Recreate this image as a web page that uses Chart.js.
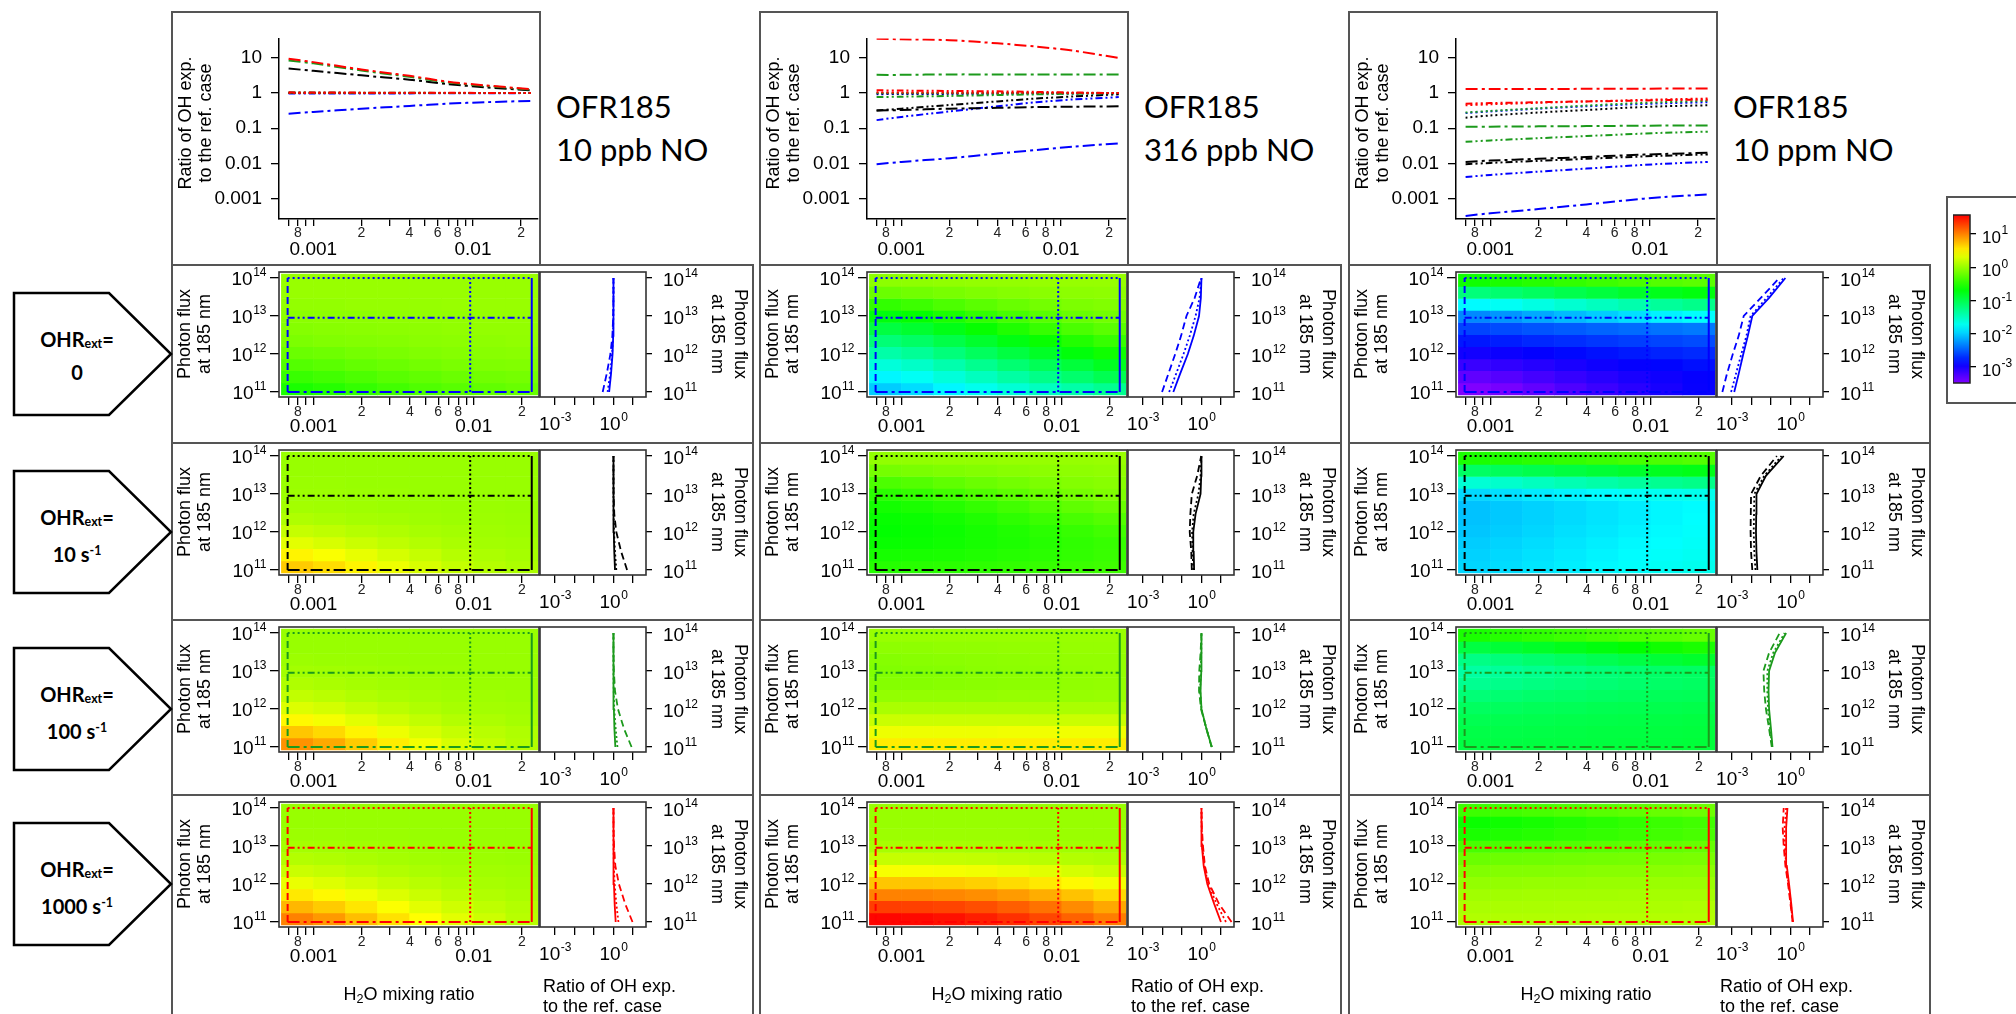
<!DOCTYPE html>
<html>
<head>
<meta charset="utf-8">
<script src="https://cdn.jsdelivr.net/npm/chart.js@4.4.1/dist/chart.umd.min.js"></script>
<style>
  html, body { margin: 0; padding: 0; background: #fff; }
  #page { position: relative; width: 2016px; height: 1014px; overflow: hidden; font-family: "Liberation Sans", Arial, sans-serif; color: #000; }
  .box { position: absolute; border: 2px solid #555; box-sizing: border-box; }
  canvas { position: absolute; }
  .txt { position: absolute; white-space: nowrap; }
  .rot { transform: translate(-50%, -50%) rotate(-90deg); text-align: center; }
  .rotcw { transform: translate(-50%, -50%) rotate(90deg); text-align: center; }
  .ofr { font-family: Lato, "Open Sans", sans-serif; font-size: 31px; line-height: 43px; }
  .ohr { font-family: Lato, "Open Sans", sans-serif; font-weight: bold; font-size: 20px; line-height: 29px; text-align: center; width: 130px; }
  .ohr sub { font-size: 0.62em; vertical-align: -0.1em; }
  .ohr sup { font-size: 0.62em; vertical-align: 0.55em; }
  .lab { font-size: 18px; }
  .lab sub { font-size: 0.7em; vertical-align: -0.2em; }
</style>
</head>
<body>
<div id="page"></div>
<script>
// ---------------- data ----------------
// H2O mixing ratio sample points of the top panels
const h2oPts = [0.0007, 0.001, 0.002, 0.004, 0.007, 0.012, 0.023];
// photon flux sample points of the side panels
const fluxPts = [1e11, 3e11, 1e12, 3e12, 1e13, 3e13, 1e14];

// top panels: ratio vs H2O, one row per photon flux [1e14, 9e12, 1e11]
const top10ppbBlue  = [[1.0, 1.0, 1.0, 1.0, 1.0, 1.0, 1.0], [0.97, 0.97, 0.98, 0.98, 0.99, 0.99, 1.0], [0.26, 0.29, 0.36, 0.43, 0.5, 0.55, 0.6]];
const top10ppbBlack = [[1.0, 1.0, 1.0, 1.0, 1.0, 1.0, 1.0], [1.02, 1.02, 1.01, 1.01, 1.01, 1.0, 1.0], [5.0, 4.3, 3.2, 2.4, 1.8, 1.45, 1.2]];
const top10ppbGreen = [[1.0, 1.0, 1.0, 1.0, 1.0, 1.0, 1.0], [1.04, 1.03, 1.02, 1.02, 1.01, 1.01, 1.0], [8.5, 7.0, 4.4, 2.9, 2.0, 1.6, 1.25]];
const top10ppbRed   = [[1.0, 1.0, 1.0, 1.0, 1.0, 1.0, 1.0], [1.05, 1.04, 1.03, 1.02, 1.02, 1.01, 1.0], [9.5, 7.6, 4.7, 3.1, 2.1, 1.65, 1.3]];

const top316ppbBlue  = [[0.93, 0.94, 0.95, 0.96, 0.97, 0.98, 0.99], [0.17, 0.21, 0.3, 0.42, 0.55, 0.66, 0.77], [0.0095, 0.011, 0.014, 0.019, 0.024, 0.03, 0.037]];
const top316ppbBlack = [[0.97, 0.97, 0.98, 0.98, 0.99, 0.99, 1.0], [0.32, 0.36, 0.46, 0.58, 0.7, 0.8, 0.92], [0.32, 0.33, 0.36, 0.38, 0.4, 0.41, 0.42]];
const top316ppbGreen = [[1.0, 1.0, 1.0, 1.0, 1.0, 1.0, 1.0], [0.77, 0.79, 0.83, 0.88, 0.92, 0.96, 1.0], [3.3, 3.3, 3.4, 3.4, 3.4, 3.4, 3.4]];
const top316ppbRed   = [[1.05, 1.04, 1.03, 1.02, 1.02, 1.01, 1.0], [1.2, 1.18, 1.15, 1.12, 1.08, 1.04, 1.0], [35, 34, 32, 26, 21, 16, 10]];

const top10ppmBlue  = [[0.27, 0.3, 0.36, 0.42, 0.47, 0.51, 0.55], [0.0041, 0.0047, 0.0058, 0.0071, 0.0084, 0.0097, 0.011], [0.00032, 0.00038, 0.0005, 0.00068, 0.00088, 0.0011, 0.0013]];
const top10ppmBlack = [[0.2, 0.23, 0.28, 0.33, 0.38, 0.42, 0.45], [0.0095, 0.0103, 0.0118, 0.0135, 0.015, 0.0165, 0.018], [0.011, 0.012, 0.0135, 0.0152, 0.017, 0.0185, 0.02]];
const top10ppmGreen = [[0.28, 0.31, 0.37, 0.44, 0.5, 0.55, 0.6], [0.041, 0.045, 0.052, 0.06, 0.067, 0.074, 0.08], [0.11, 0.111, 0.113, 0.115, 0.117, 0.119, 0.12]];
const top10ppmRed   = [[0.45, 0.48, 0.53, 0.58, 0.62, 0.66, 0.7], [0.5, 0.52, 0.55, 0.58, 0.6, 0.63, 0.65], [1.3, 1.3, 1.31, 1.32, 1.33, 1.34, 1.35]];

// side panels: ratio vs photon flux, one row per H2O [0.0007, 0.0095, 0.023]
const side10ppbBlue  = [[0.28, 0.45, 0.7, 0.88, 0.97, 1.0, 1.0], [0.5, 0.68, 0.85, 0.95, 0.99, 1.0, 1.0], [0.6, 0.75, 0.9, 0.97, 1.0, 1.0, 1.0]];
const side10ppbBlack = [[5.0, 2.5, 1.4, 1.1, 1.02, 1.0, 1.0], [1.4, 1.2, 1.07, 1.02, 1.0, 1.0, 1.0], [1.2, 1.1, 1.04, 1.01, 1.0, 1.0, 1.0]];
const side10ppbGreen = [[8.5, 3.5, 1.7, 1.2, 1.05, 1.0, 1.0], [1.6, 1.3, 1.1, 1.03, 1.0, 1.0, 1.0], [1.25, 1.12, 1.05, 1.01, 1.0, 1.0, 1.0]];
const side10ppbRed   = [[9.5, 4.0, 1.9, 1.25, 1.07, 1.01, 1.0], [1.8, 1.4, 1.15, 1.05, 1.01, 1.0, 1.0], [1.3, 1.15, 1.06, 1.02, 1.0, 1.0, 1.0]];

const side316ppbBlue  = [[0.0095, 0.02, 0.045, 0.09, 0.17, 0.45, 0.95], [0.022, 0.05, 0.12, 0.25, 0.5, 0.8, 1.0], [0.036, 0.08, 0.2, 0.4, 0.75, 0.93, 1.0]];
const side316ppbBlack = [[0.32, 0.3, 0.25, 0.27, 0.32, 0.6, 0.97], [0.38, 0.35, 0.33, 0.4, 0.7, 0.9, 1.0], [0.42, 0.4, 0.38, 0.5, 0.9, 0.97, 1.0]];
const side316ppbGreen = [[3.3, 1.8, 0.95, 0.75, 0.77, 0.9, 1.0], [3.4, 1.8, 1.0, 0.85, 0.92, 0.98, 1.0], [3.4, 1.8, 1.0, 0.9, 0.98, 1.0, 1.0]];
const side316ppbRed   = [[35, 8, 2.5, 1.5, 1.2, 1.05, 1.0], [18, 6, 2.2, 1.4, 1.1, 1.02, 1.0], [10, 4.5, 2.0, 1.3, 1.05, 1.0, 1.0]];

const side10ppmBlue  = [[0.00032, 0.00055, 0.0011, 0.0022, 0.004, 0.03, 0.27], [0.0009, 0.0016, 0.003, 0.0055, 0.009, 0.06, 0.45], [0.0013, 0.0022, 0.0038, 0.0065, 0.011, 0.08, 0.55]];
const side10ppmBlack = [[0.011, 0.0095, 0.009, 0.0092, 0.0095, 0.03, 0.2], [0.016, 0.014, 0.013, 0.0135, 0.014, 0.045, 0.35], [0.02, 0.018, 0.017, 0.0175, 0.018, 0.055, 0.45]];
const side10ppmGreen = [[0.11, 0.08, 0.055, 0.045, 0.041, 0.08, 0.28], [0.115, 0.09, 0.07, 0.065, 0.065, 0.13, 0.5], [0.12, 0.1, 0.08, 0.075, 0.08, 0.16, 0.6]];
const side10ppmRed   = [[1.3, 1.0, 0.75, 0.55, 0.45, 0.4, 0.45], [1.3, 1.05, 0.8, 0.6, 0.52, 0.5, 0.6], [1.35, 1.1, 0.85, 0.65, 0.6, 0.6, 0.7]];

// heat maps: log10(ratio); rows = photon flux bins (top to bottom), columns = H2O bins (left to right)
const h2oBinExp = [-3.2, -3.0, -2.8, -2.6, -2.4, -2.2, -2.0, -1.8, -1.6];
const fluxBinExp = [14.10, 13.78, 13.46, 13.15, 12.83, 12.51, 12.19, 11.87, 11.56, 11.24, 10.92];

const heat10ppbBlue = [
  [0, 0, 0, 0, 0, 0, 0, 0],
  [0, 0, 0, 0, 0, 0, 0, 0],
  [-0.02, -0.02, -0.01, -0.01, -0.01, 0, 0, 0],
  [-0.05, -0.04, -0.04, -0.03, -0.02, -0.02, -0.01, -0.01],
  [-0.08, -0.07, -0.06, -0.05, -0.04, -0.03, -0.02, -0.02],
  [-0.12, -0.1, -0.09, -0.08, -0.06, -0.05, -0.04, -0.03],
  [-0.2, -0.18, -0.15, -0.13, -0.1, -0.08, -0.07, -0.06],
  [-0.3, -0.27, -0.23, -0.2, -0.16, -0.13, -0.11, -0.1],
  [-0.42, -0.38, -0.33, -0.28, -0.24, -0.2, -0.17, -0.15],
  [-0.55, -0.5, -0.44, -0.38, -0.32, -0.28, -0.24, -0.21]];
const heat10ppbBlack = [
  [0, 0, 0, 0, 0, 0, 0, 0],
  [0, 0, 0, 0, 0, 0, 0, 0],
  [0.01, 0.01, 0, 0, 0, 0, 0, 0],
  [0.02, 0.02, 0.01, 0.01, 0, 0, 0, 0],
  [0.05, 0.04, 0.03, 0.02, 0.02, 0.01, 0.01, 0],
  [0.1, 0.08, 0.06, 0.05, 0.03, 0.02, 0.02, 0.01],
  [0.2, 0.17, 0.13, 0.1, 0.07, 0.05, 0.03, 0.02],
  [0.33, 0.28, 0.22, 0.17, 0.12, 0.08, 0.05, 0.04],
  [0.5, 0.43, 0.35, 0.27, 0.2, 0.13, 0.09, 0.06],
  [0.68, 0.6, 0.5, 0.38, 0.28, 0.19, 0.13, 0.09]];
const heat10ppbGreen = [
  [0, 0, 0, 0, 0, 0, 0, 0],
  [0, 0, 0, 0, 0, 0, 0, 0],
  [0.02, 0.01, 0.01, 0, 0, 0, 0, 0],
  [0.05, 0.04, 0.03, 0.02, 0.01, 0.01, 0, 0],
  [0.1, 0.08, 0.06, 0.04, 0.03, 0.02, 0.01, 0.01],
  [0.18, 0.15, 0.11, 0.08, 0.06, 0.04, 0.03, 0.02],
  [0.3, 0.26, 0.2, 0.15, 0.1, 0.07, 0.05, 0.04],
  [0.48, 0.41, 0.33, 0.25, 0.18, 0.12, 0.09, 0.06],
  [0.7, 0.62, 0.5, 0.38, 0.28, 0.2, 0.14, 0.1],
  [0.93, 0.83, 0.68, 0.53, 0.4, 0.28, 0.19, 0.12]];
const heat10ppbRed = [
  [0, 0, 0, 0, 0, 0, 0, 0],
  [0, 0, 0, 0, 0, 0, 0, 0],
  [0.02, 0.02, 0.01, 0.01, 0, 0, 0, 0],
  [0.06, 0.05, 0.04, 0.03, 0.02, 0.01, 0.01, 0],
  [0.12, 0.1, 0.08, 0.06, 0.04, 0.03, 0.02, 0.01],
  [0.22, 0.19, 0.15, 0.11, 0.08, 0.06, 0.04, 0.03],
  [0.36, 0.31, 0.25, 0.19, 0.14, 0.1, 0.07, 0.05],
  [0.55, 0.48, 0.39, 0.3, 0.22, 0.16, 0.11, 0.08],
  [0.77, 0.68, 0.56, 0.44, 0.33, 0.24, 0.17, 0.12],
  [1.0, 0.9, 0.74, 0.58, 0.45, 0.33, 0.23, 0.14]];

const heat316ppbBlue = [
  [-0.05, -0.04, -0.03, -0.02, -0.02, -0.01, -0.01, -0.01],
  [-0.2, -0.17, -0.14, -0.11, -0.08, -0.06, -0.05, -0.04],
  [-0.45, -0.4, -0.33, -0.27, -0.21, -0.16, -0.12, -0.1],
  [-0.72, -0.65, -0.55, -0.45, -0.36, -0.28, -0.21, -0.16],
  [-0.95, -0.87, -0.76, -0.64, -0.53, -0.43, -0.34, -0.27],
  [-1.18, -1.1, -0.98, -0.86, -0.74, -0.63, -0.52, -0.43],
  [-1.4, -1.32, -1.2, -1.07, -0.95, -0.83, -0.71, -0.6],
  [-1.62, -1.54, -1.42, -1.29, -1.16, -1.04, -0.92, -0.8],
  [-1.82, -1.74, -1.62, -1.5, -1.38, -1.26, -1.14, -1.02],
  [-2.0, -1.93, -1.82, -1.71, -1.6, -1.5, -1.4, -1.3]];
const heat316ppbBlack = [
  [-0.03, -0.03, -0.02, -0.02, -0.01, -0.01, -0.01, 0],
  [-0.15, -0.13, -0.11, -0.09, -0.07, -0.05, -0.04, -0.03],
  [-0.33, -0.3, -0.25, -0.2, -0.16, -0.12, -0.09, -0.07],
  [-0.48, -0.44, -0.38, -0.32, -0.26, -0.2, -0.15, -0.11],
  [-0.58, -0.55, -0.5, -0.44, -0.38, -0.31, -0.25, -0.2],
  [-0.64, -0.62, -0.58, -0.53, -0.47, -0.41, -0.35, -0.3],
  [-0.66, -0.64, -0.61, -0.57, -0.53, -0.48, -0.43, -0.38],
  [-0.63, -0.62, -0.6, -0.57, -0.54, -0.5, -0.46, -0.43],
  [-0.57, -0.56, -0.55, -0.53, -0.5, -0.48, -0.45, -0.42],
  [-0.5, -0.49, -0.48, -0.47, -0.45, -0.43, -0.41, -0.39]];
const heat316ppbGreen = [
  [0, 0, 0, 0, 0, 0, 0, 0],
  [-0.04, -0.04, -0.03, -0.03, -0.02, -0.02, -0.01, -0.01],
  [-0.08, -0.07, -0.06, -0.05, -0.04, -0.03, -0.02, -0.02],
  [-0.1, -0.09, -0.08, -0.06, -0.05, -0.04, -0.03, -0.02],
  [-0.08, -0.08, -0.07, -0.06, -0.05, -0.04, -0.03, -0.02],
  [-0.02, -0.02, -0.02, -0.02, -0.01, -0.01, -0.01, 0],
  [0.08, 0.08, 0.08, 0.08, 0.08, 0.08, 0.08, 0.08],
  [0.22, 0.22, 0.22, 0.22, 0.22, 0.22, 0.22, 0.22],
  [0.38, 0.38, 0.38, 0.38, 0.39, 0.39, 0.39, 0.39],
  [0.53, 0.53, 0.53, 0.53, 0.53, 0.53, 0.53, 0.53]];
const heat316ppbRed = [
  [0, 0, 0, 0, 0, 0, 0, 0],
  [0, 0, 0, 0, 0, 0, 0, 0],
  [0.02, 0.02, 0.02, 0.02, 0.02, 0.01, 0.01, 0.01],
  [0.07, 0.07, 0.07, 0.06, 0.06, 0.05, 0.04, 0.03],
  [0.2, 0.2, 0.19, 0.18, 0.16, 0.14, 0.12, 0.1],
  [0.42, 0.42, 0.41, 0.39, 0.36, 0.32, 0.27, 0.22],
  [0.7, 0.7, 0.69, 0.66, 0.61, 0.55, 0.48, 0.4],
  [1.0, 1.0, 0.98, 0.95, 0.89, 0.81, 0.72, 0.62],
  [1.3, 1.29, 1.27, 1.23, 1.16, 1.07, 0.96, 0.84],
  [1.55, 1.53, 1.5, 1.44, 1.36, 1.26, 1.14, 1.02]];

const heat10ppmBlue = [
  [-0.6, -0.55, -0.5, -0.45, -0.4, -0.35, -0.3, -0.27],
  [-1.2, -1.15, -1.08, -1.0, -0.93, -0.85, -0.78, -0.72],
  [-1.8, -1.74, -1.66, -1.58, -1.5, -1.42, -1.34, -1.27],
  [-2.3, -2.24, -2.16, -2.08, -2.0, -1.92, -1.84, -1.77],
  [-2.6, -2.57, -2.53, -2.5, -2.46, -2.43, -2.4, -2.37],
  [-2.8, -2.77, -2.73, -2.7, -2.66, -2.63, -2.6, -2.57],
  [-2.98, -2.95, -2.91, -2.87, -2.83, -2.79, -2.75, -2.72],
  [-3.15, -3.11, -3.06, -3.01, -2.96, -2.92, -2.88, -2.84],
  [-3.32, -3.27, -3.2, -3.13, -3.07, -3.01, -2.96, -2.92],
  [-3.48, -3.42, -3.33, -3.24, -3.16, -3.08, -3.0, -2.93]];
const heat10ppmBlack = [
  [-0.55, -0.52, -0.48, -0.44, -0.4, -0.36, -0.33, -0.3],
  [-1.1, -1.06, -1.0, -0.95, -0.9, -0.85, -0.8, -0.76],
  [-1.6, -1.56, -1.5, -1.45, -1.4, -1.35, -1.3, -1.26],
  [-1.95, -1.92, -1.87, -1.83, -1.79, -1.75, -1.72, -1.7],
  [-2.05, -2.02, -1.98, -1.94, -1.9, -1.86, -1.82, -1.79],
  [-2.05, -2.02, -1.98, -1.94, -1.9, -1.86, -1.82, -1.78],
  [-2.03, -2.0, -1.96, -1.92, -1.88, -1.84, -1.8, -1.77],
  [-2.0, -1.97, -1.93, -1.89, -1.85, -1.81, -1.78, -1.75],
  [-1.98, -1.95, -1.91, -1.87, -1.83, -1.79, -1.76, -1.73],
  [-1.96, -1.93, -1.89, -1.85, -1.81, -1.77, -1.74, -1.71]];
const heat10ppmGreen = [
  [-0.55, -0.5, -0.45, -0.4, -0.35, -0.3, -0.26, -0.22],
  [-0.95, -0.9, -0.84, -0.78, -0.72, -0.66, -0.6, -0.55],
  [-1.25, -1.2, -1.14, -1.08, -1.02, -0.96, -0.9, -0.85],
  [-1.38, -1.34, -1.29, -1.24, -1.2, -1.16, -1.12, -1.1],
  [-1.3, -1.27, -1.23, -1.2, -1.17, -1.14, -1.11, -1.09],
  [-1.18, -1.16, -1.13, -1.11, -1.09, -1.07, -1.05, -1.04],
  [-1.08, -1.07, -1.05, -1.04, -1.02, -1.01, -1.0, -0.99],
  [-1.02, -1.01, -1.0, -0.99, -0.98, -0.97, -0.96, -0.95],
  [-0.98, -0.98, -0.97, -0.96, -0.95, -0.95, -0.94, -0.93],
  [-0.96, -0.96, -0.95, -0.95, -0.94, -0.93, -0.93, -0.92]];
const heat10ppmRed = [
  [-0.4, -0.38, -0.35, -0.32, -0.28, -0.25, -0.22, -0.19],
  [-0.62, -0.6, -0.57, -0.53, -0.49, -0.45, -0.41, -0.38],
  [-0.55, -0.53, -0.5, -0.47, -0.44, -0.41, -0.38, -0.35],
  [-0.35, -0.34, -0.32, -0.3, -0.28, -0.26, -0.24, -0.22],
  [-0.2, -0.19, -0.18, -0.17, -0.16, -0.15, -0.14, -0.13],
  [-0.1, -0.09, -0.09, -0.08, -0.07, -0.07, -0.06, -0.05],
  [-0.02, -0.02, -0.01, -0.01, 0, 0, 0.01, 0.01],
  [0.04, 0.04, 0.05, 0.05, 0.05, 0.06, 0.06, 0.06],
  [0.08, 0.08, 0.08, 0.09, 0.09, 0.09, 0.09, 0.1],
  [0.11, 0.11, 0.11, 0.11, 0.12, 0.12, 0.12, 0.12]];

// reference lines drawn on the maps
const h2oMarks = [0.00069, 0.0095, 0.023];
const fluxMarks = [1e14, 9e12, 1e11];

// ticks and labels
const h2oTicks = [0.0007, 0.0008, 0.0009, 0.001, 0.002, 0.003, 0.004, 0.005, 0.006, 0.007, 0.008, 0.009, 0.01, 0.02];
const h2oTickText = ['', '8', '', '', '2', '', '4', '', '6', '', '8', '', '', '2'];
const h2oMajor = [0.001, 0.01];
const h2oMajorText = ['0.001', '0.01'];
const ratioTicks = [0.001, 0.01, 0.1, 1, 10];
const ratioTickText = ['0.001', '0.01', '0.1', '1', '10'];
const fluxTicks = [1e11, 1e12, 1e13, 1e14];
const sideTicks = [1e-3, 1e-2, 1e-1, 1, 10];
const sideLabelled = [1e-3, 1];
const cbTicks = [1e-3, 1e-2, 1e-1, 1, 10];

const noLabels = ['10 ppb NO', '316 ppb NO', '10 ppm NO'];
const ohrLabels = ['0', '10 s<sup>-1</sup>', '100 s<sup>-1</sup>', '1000 s<sup>-1</sup>'];
const ohrColors = ['#0000ff', '#000000', '#1c9a1c', '#ff0000'];

const topSets = [[top10ppbBlue, top10ppbBlack, top10ppbGreen, top10ppbRed],
                 [top316ppbBlue, top316ppbBlack, top316ppbGreen, top316ppbRed],
                 [top10ppmBlue, top10ppmBlack, top10ppmGreen, top10ppmRed]];
const sideSets = [[side10ppbBlue, side10ppbBlack, side10ppbGreen, side10ppbRed],
                  [side316ppbBlue, side316ppbBlack, side316ppbGreen, side316ppbRed],
                  [side10ppmBlue, side10ppmBlack, side10ppmGreen, side10ppmRed]];
const heatSets = [[heat10ppbBlue, heat10ppbBlack, heat10ppbGreen, heat10ppbRed],
                  [heat316ppbBlue, heat316ppbBlack, heat316ppbGreen, heat316ppbRed],
                  [heat10ppmBlue, heat10ppmBlack, heat10ppmGreen, heat10ppmRed]];

// ---------------- layout ----------------
const colX = [0, 588, 1177];
const rowY = [264, 442, 619, 794];
const XMIN = Math.pow(10, -3.215), XMAX = Math.pow(10, -1.593);
const YMIN = Math.pow(10, 10.868), YMAX = Math.pow(10, 14.158);
const RMIN = Math.pow(10, -3.583), RMAX = Math.pow(10, 1.556);
const SMIN = Math.pow(10, -3.77), SMAX = Math.pow(10, 1.67);
const CBMIN = Math.pow(10, -3.48), CBMAX = Math.pow(10, 1.57);
const fluxDash = [[2, 3], [7, 3, 2, 3, 2, 3], [12, 4, 3, 4]];
const h2oDash = [[7, 4], [2, 2.5], []];
const FONT = '"Liberation Sans", Arial, sans-serif';

Chart.defaults.font.family = FONT;
Chart.defaults.color = '#000';
Chart.defaults.animation = false;
Chart.defaults.plugins.legend.display = false;
Chart.defaults.plugins.tooltip.enabled = false;

const page = document.getElementById('page');

function ratioColor(v) {
    const hue = Math.max(0, Math.min(270, (1.57 - v) * 53.7));
    return 'hsl(' + hue.toFixed(1) + ',100%,50%)';
}

// box around the plotting region
const framePlugin = {
    id: 'frame',
    afterDraw(chart, args, opts) {
        if (!opts.show) return;
        const a = chart.chartArea, ctx = chart.ctx;
        ctx.save();
        ctx.strokeStyle = opts.color || '#333';
        ctx.lineWidth = opts.width || 1.5;
        ctx.strokeRect(a.left, a.top, a.right - a.left, a.bottom - a.top);
        ctx.restore();
    }
};

// "10" with a raised exponent at tick positions
const expPlugin = {
    id: 'exp',
    afterDraw(chart, args, opts) {
        const items = opts.items || [];
        const ctx = chart.ctx;
        items.forEach(it => {
            const s = chart.scales[it.scale];
            const big = it.size || 18, small = it.sup || 12;
            it.values.forEach(v => {
                const p = s.getPixelForValue(v);
                const e = String(Math.round(Math.log10(v)));
                ctx.save();
                ctx.font = big + 'px ' + FONT;
                const wb = ctx.measureText('10').width;
                ctx.font = small + 'px ' + FONT;
                const ws = ctx.measureText(e).width;
                let x, y;
                if (it.side === 'left') { x = s.right - it.gap - wb - ws; y = p + it.dy; }
                else if (it.side === 'right') { x = s.left + it.gap; y = p + it.dy; }
                else { x = p - (wb + ws) / 2; y = s.top + it.dy; }
                ctx.fillStyle = '#000';
                ctx.textBaseline = 'middle';
                ctx.textAlign = 'left';
                ctx.font = big + 'px ' + FONT;
                ctx.fillText('10', x, y);
                ctx.font = small + 'px ' + FONT;
                ctx.fillText(e, x + wb + 0.5, y - it.rise);
                ctx.restore();
            });
        });
    }
};

// plain labels under a horizontal axis, centred on tick values
const tickTextPlugin = {
    id: 'ticktext',
    afterDraw(chart, args, opts) {
        const ctx = chart.ctx;
        (opts.items || []).forEach(it => {
            const s = chart.scales[it.scale];
            ctx.save();
            ctx.fillStyle = it.color || '#000';
            ctx.font = it.size + 'px ' + FONT;
            ctx.textAlign = 'center';
            ctx.textBaseline = 'middle';
            it.values.forEach((v, i) => {
                if (it.texts[i]) ctx.fillText(it.texts[i], s.getPixelForValue(v), s.top + it.dy);
            });
            ctx.restore();
        });
    }
};
Chart.register(framePlugin, expPlugin, tickTextPlugin);

function h2oLabelItems(dyMinor, dyMajor) {
    return [
        { scale: 'x', values: h2oTicks, texts: h2oTickText, size: 14, color: '#222', dy: dyMinor },
        { scale: 'x', values: h2oMajor, texts: h2oMajorText, size: 19, color: '#000', dy: dyMajor }
    ];
}

function makeCanvas(area, m) {
    const c = document.createElement('canvas');
    const w = Math.round(area.x1 - area.x0 + m.l + m.r);
    const h = Math.round(area.y1 - area.y0 + m.t + m.b);
    c.width = w;
    c.height = h;
    c.style.left = (area.x0 - m.l) + 'px';
    c.style.top = (area.y0 - m.t) + 'px';
    c.style.width = w + 'px';
    c.style.height = h + 'px';
    page.appendChild(c);
    return c;
}

function addBox(left, top, width, height) {
    const d = document.createElement('div');
    d.className = 'box';
    d.style.left = left + 'px';
    d.style.top = top + 'px';
    d.style.width = width + 'px';
    d.style.height = height + 'px';
    page.appendChild(d);
}

function addText(html, left, top, cls, extra) {
    const d = document.createElement('div');
    d.className = 'txt ' + (cls || '');
    d.innerHTML = html;
    d.style.left = left + 'px';
    d.style.top = top + 'px';
    if (extra) Object.assign(d.style, extra);
    page.appendChild(d);
    return d;
}

function h2oAxis(height, tickLen, showBorder) {
    return {
        type: 'logarithmic', position: 'bottom', min: XMIN, max: XMAX, bounds: 'data', offset: false,
        afterBuildTicks: s => { s.ticks = h2oTicks.map(v => ({ value: v })); },
        afterFit: s => { s.height = height; },
        grid: { drawOnChartArea: false, tickLength: tickLen, color: '#000', lineWidth: 1.3, offset: false },
        border: { display: showBorder, color: '#000', width: 1.5 },
        ticks: { autoSkip: false, maxRotation: 0, minRotation: 0, padding: 0, callback: () => '' }
    };
}

function topChart(col) {
    const dx = colX[col];
    const area = { x0: dx + 279, y0: 33, x1: dx + 538, y1: 219 };
    const m = { l: 75, t: 15, r: 12, b: 45 };
    const cv = makeCanvas(area, m);
    const sets = topSets[col];
    const datasets = [];
    [3, 2, 1, 0].forEach(k => {
        sets[k].forEach((vals, j) => {
            datasets.push({
                data: h2oPts.map((x, i) => ({ x: x, y: vals[i] })),
                borderColor: ohrColors[k], borderDash: fluxDash[j], borderWidth: 2,
                pointRadius: 0, tension: 0.3, fill: false
            });
        });
    });
    new Chart(cv, {
        type: 'line',
        data: { datasets },
        options: {
            responsive: false, devicePixelRatio: 1, events: [],
            layout: { padding: { left: 0, top: m.t, right: m.r, bottom: 0 } },
            plugins: { ticktext: { items: h2oLabelItems(14, 31) } },
            scales: {
                x: h2oAxis(m.b, 7, true),
                y: {
                    type: 'logarithmic', position: 'left', min: RMIN, max: RMAX, bounds: 'data',
                    afterBuildTicks: s => { s.ticks = ratioTicks.map(v => ({ value: v })); },
                    afterFit: s => { s.width = m.l; },
                    grid: { drawOnChartArea: false, tickLength: 8, color: '#000', lineWidth: 1.3 },
                    border: { display: true, color: '#000', width: 1.5 },
                    ticks: { padding: 9, font: { size: 19 }, callback: (v, i) => ratioTickText[i] }
                }
            }
        }
    });
}

function heatChart(col, row) {
    const dx = colX[col], R = rowY[row];
    const area = { x0: dx + 279, y0: R + 8, x1: dx + 539, y1: R + 133 };
    const m = { l: 64, t: 10, r: 3, b: 42 };
    const cv = makeCanvas(area, m);
    const grid = heatSets[col][row];
    const color = ohrColors[row];
    const datasets = [];
    grid.forEach((vals, r) => {
        datasets.push({
            type: 'bar', xAxisID: 'xb', yAxisID: 'y', order: 2,
            data: vals.map((v, c) => ({
                x: Math.pow(10, (h2oBinExp[c] + h2oBinExp[c + 1]) / 2),
                y: [Math.pow(10, fluxBinExp[r + 1]), Math.pow(10, fluxBinExp[r])]
            })),
            backgroundColor: vals.map(ratioColor),
            borderWidth: 0, grouped: false, barPercentage: 1, categoryPercentage: 1
        });
    });
    h2oMarks.forEach((h, j) => {
        datasets.push({
            type: 'line', xAxisID: 'x', yAxisID: 'y', order: 1,
            data: [{ x: h, y: fluxMarks[2] }, { x: h, y: fluxMarks[0] }],
            borderColor: color, borderDash: h2oDash[j], borderWidth: 2, pointRadius: 0, tension: 0
        });
    });
    fluxMarks.forEach((f, j) => {
        datasets.push({
            type: 'line', xAxisID: 'x', yAxisID: 'y', order: 1,
            data: [{ x: h2oMarks[0], y: f }, { x: h2oMarks[2], y: f }],
            borderColor: color, borderDash: fluxDash[j], borderWidth: 2, pointRadius: 0, tension: 0
        });
    });
    new Chart(cv, {
        type: 'bar',
        data: { datasets },
        options: {
            responsive: false, devicePixelRatio: 1, events: [],
            layout: { padding: { left: 0, top: m.t, right: m.r, bottom: 0 } },
            plugins: {
                frame: { show: true, color: '#333', width: 1.6 },
                exp: { items: [{ scale: 'y', side: 'left', values: fluxTicks, gap: 13, dy: 2, rise: 7.5, size: 19, sup: 12 }] },
                ticktext: { items: h2oLabelItems(15, 30) }
            },
            scales: {
                xb: {
                    type: 'logarithmic', display: false, min: XMIN, max: XMAX, bounds: 'data', offset: false,
                    afterBuildTicks: s => {
                        s.ticks = h2oBinExp.slice(0, -1).map((e, c) => ({ value: Math.pow(10, (e + h2oBinExp[c + 1]) / 2) }));
                    }
                },
                x: h2oAxis(m.b, 8, false),
                y: {
                    type: 'logarithmic', position: 'left', min: YMIN, max: YMAX, bounds: 'data', beginAtZero: false,
                    afterBuildTicks: s => { s.ticks = fluxTicks.map(v => ({ value: v })); },
                    afterFit: s => { s.width = m.l; },
                    grid: { drawOnChartArea: false, tickLength: 9, color: '#000', lineWidth: 1.3, offset: false },
                    border: { display: false },
                    ticks: { padding: 0, callback: () => '' }
                }
            }
        }
    });
}

function sideChart(col, row) {
    const dx = colX[col], R = rowY[row];
    const area = { x0: dx + 540, y0: R + 8, x1: dx + 646, y1: R + 133 };
    const m = { l: 2, t: 10, r: 62, b: 42 };
    const cv = makeCanvas(area, m);
    const sets = sideSets[col][row];
    const datasets = sets.map((vals, j) => ({
        data: fluxPts.map((f, i) => ({ x: vals[i], y: f })),
        borderColor: ohrColors[row], borderDash: h2oDash[j], borderWidth: 1.8,
        pointRadius: 0, tension: 0, fill: false
    }));
    new Chart(cv, {
        type: 'line',
        data: { datasets },
        options: {
            responsive: false, devicePixelRatio: 1, events: [],
            layout: { padding: { left: m.l, top: m.t, right: 0, bottom: 0 } },
            plugins: {
                frame: { show: true, color: '#333', width: 1.6 },
                exp: { items: [
                    { scale: 'y', side: 'right', values: fluxTicks, gap: 17, dy: 3, rise: 7.5, size: 19, sup: 12 },
                    { scale: 'x', side: 'bottom', values: sideLabelled, dy: 28, rise: 7, size: 19, sup: 12 }
                ] }
            },
            scales: {
                x: {
                    type: 'logarithmic', position: 'bottom', min: SMIN, max: SMAX, bounds: 'data', offset: false,
                    afterBuildTicks: s => { s.ticks = sideTicks.map(v => ({ value: v })); },
                    afterFit: s => { s.height = m.b; },
                    grid: { drawOnChartArea: false, tickLength: 8, color: '#000', lineWidth: 1.3 },
                    border: { display: false },
                    ticks: { padding: 0, callback: () => '' }
                },
                y: {
                    type: 'logarithmic', position: 'right', min: YMIN, max: YMAX, bounds: 'data',
                    afterBuildTicks: s => { s.ticks = fluxTicks.map(v => ({ value: v })); },
                    afterFit: s => { s.width = m.r; },
                    grid: { drawOnChartArea: false, tickLength: 6, color: '#000', lineWidth: 1.3 },
                    border: { display: false },
                    ticks: { padding: 0, callback: () => '' }
                }
            }
        }
    });
}

function colorBar() {
    const area = { x0: 1953, y0: 215, x1: 1970, y1: 383 };
    const m = { l: 0, t: 10, r: 45, b: 10 };
    const cv = makeCanvas(area, m);
    new Chart(cv, {
        type: 'bar',
        data: {
            labels: ['bar'],
            datasets: [{
                data: [[CBMIN, CBMAX]],
                borderWidth: 0, barPercentage: 1, categoryPercentage: 1,
                backgroundColor: (ctx) => {
                    const ch = ctx.chart;
                    if (!ch.chartArea) return '#fff';
                    const ys = ch.scales.y;
                    const y0 = ys.getPixelForValue(CBMAX), y1 = ys.getPixelForValue(CBMIN);
                    const g = ch.ctx.createLinearGradient(0, y0, 0, y1);
                    for (let i = 0; i <= 20; i++) {
                        g.addColorStop(i / 20, ratioColor(1.57 - i * 5.05 / 20));
                    }
                    return g;
                }
            }]
        },
        options: {
            responsive: false, devicePixelRatio: 1, events: [],
            layout: { padding: { left: 0, top: m.t, right: 0, bottom: m.b } },
            plugins: {
                frame: { show: true, color: '#222', width: 1.5 },
                exp: { items: [{ scale: 'y', side: 'right', values: cbTicks, gap: 12, dy: 4, rise: 7, size: 17, sup: 12 }] }
            },
            scales: {
                x: { type: 'category', display: false },
                y: {
                    type: 'logarithmic', position: 'right', min: CBMIN, max: CBMAX, bounds: 'data', beginAtZero: false,
                    afterBuildTicks: s => { s.ticks = cbTicks.map(v => ({ value: v })); },
                    afterFit: s => { s.width = m.r; },
                    grid: { drawOnChartArea: false, tickLength: 6, color: '#000', lineWidth: 1.3 },
                    border: { display: false },
                    ticks: { padding: 0, callback: () => '' }
                }
            }
        }
    });
}

// ---------------- build page ----------------
for (let c = 0; c < 3; c++) {
    const dx = colX[c];
    addBox(dx + 171, 11, 370, 255);
    for (let r = 0; r < 4; r++) {
        const h = r < 3 ? rowY[r + 1] - rowY[r] + 2 : 240;
        addBox(dx + 171, rowY[r], 583, h);
    }
}
addBox(1946, 196, 90, 208);

// arrow shaped row labels
const svgNS = 'http://www.w3.org/2000/svg';
const svg = document.createElementNS(svgNS, 'svg');
svg.setAttribute('width', '180');
svg.setAttribute('height', '1014');
svg.style.position = 'absolute';
svg.style.left = '0px';
svg.style.top = '0px';
rowY.forEach(R => {
    const p = document.createElementNS(svgNS, 'polygon');
    p.setAttribute('points', [[14, R + 29], [109, R + 29], [171, R + 90], [109, R + 151], [14, R + 151]].map(q => q.join(',')).join(' '));
    p.setAttribute('fill', '#fff');
    p.setAttribute('stroke', '#000');
    p.setAttribute('stroke-width', '2.5');
    svg.appendChild(p);
});
page.appendChild(svg);

for (let c = 0; c < 3; c++) {
    topChart(c);
    for (let r = 0; r < 4; r++) {
        heatChart(c, r);
        sideChart(c, r);
    }
}
colorBar();

// texts
rowY.forEach((R, r) => {
    addText('OHR<sub>ext</sub>=<br>' + ohrLabels[r], 12, R + 61, 'ohr');
});
for (let c = 0; c < 3; c++) {
    const dx = colX[c];
    addText('OFR185<br>' + noLabels[c], dx + 556, 85, 'ofr');
    addText('Ratio of OH exp.<br>to the ref. case', dx + 195, 123, 'lab rot', { lineHeight: '20px' });
    rowY.forEach(R => {
        addText('Photon flux<br>at 185 nm', dx + 194, R + 70, 'lab rot', { lineHeight: '20px' });
        addText('Photon flux<br>at 185 nm', dx + 729, R + 70, 'lab rotcw', { lineHeight: '23px' });
    });
    addText('H<sub>2</sub>O mixing ratio', dx + 409, 995, 'lab', { transform: 'translate(-50%, -50%)' });
    addText('Ratio of OH exp.<br>to the ref. case', dx + 543, 976, 'lab', { lineHeight: '20px' });
}
</script>
</body>
</html>
